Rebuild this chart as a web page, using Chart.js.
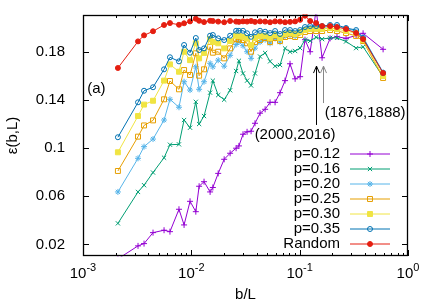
<!DOCTYPE html>
<html lang="en">
<head>
<meta charset="UTF-8">
<title>epsilon(b,L) vs b/L</title>
<script src="https://cdn.jsdelivr.net/npm/chart.js"></script>
<style>
  html, body { margin: 0; padding: 0; background: #fff; }
  #wrap { width: 436px; height: 305px; }
</style>
</head>
<body>
<div id="wrap"><canvas id="epsChart" width="436" height="305"></canvas></div>
<script>
// b/L values shared by all curves
const bL = [0.0021, 0.00322, 0.00366, 0.00443, 0.0056, 0.00635, 0.00769, 0.00857, 0.00973, 0.0110,
            0.0118, 0.0131, 0.0149, 0.0158, 0.0177, 0.0201, 0.0228, 0.0259, 0.0275, 0.0300,
            0.0327, 0.0356, 0.0387, 0.0431, 0.0480, 0.0533, 0.0593, 0.0659, 0.0733, 0.0815,
            0.0908, 0.101, 0.112, 0.125, 0.142, 0.161, 0.191, 0.221, 0.268, 0.332,
            0.385, 0.589];

// eps(b,L) for every curve
const p012 = [0.0080, 0.0188, 0.0207, 0.0298, 0.0318, 0.0306, 0.0492, 0.0362, 0.0558, 0.0472,
              0.0683, 0.0721, 0.0636, 0.0673, 0.0790, 0.0907, 0.0957, 0.0999, 0.1018, 0.1115,
              0.1135, 0.1140, 0.1206, 0.1290, 0.1322, 0.1380, 0.1380, 0.1460, 0.1560, 0.1700,
              0.1575, 0.1593, 0.1900, 0.1800, 0.2150, 0.1750, 0.1911, 0.1925, 0.1911, 0.1935,
              0.1953, 0.1820];
const p016 = [0.0375, 0.0636, 0.0692, 0.0797, 0.0920, 0.1028, 0.1031, 0.1233, 0.1169, 0.1384,
              0.1200, 0.1266, 0.1460, 0.1560, 0.1440, 0.1402, 0.1480, 0.1640, 0.1725, 0.1620,
              0.1560, 0.1520, 0.1620, 0.1760, 0.1790, 0.1720, 0.1680, 0.1690, 0.1828, 0.1800,
              0.1806, 0.1830, 0.1900, 0.1890, 0.1920, 0.1905, 0.1915, 0.1915, 0.1885, 0.1830,
              0.1841, 0.1592];
const p020 = [0.0636, 0.0915, 0.1012, 0.1075, 0.1233, 0.1405, 0.1339, 0.1551, 0.1482, 0.1675,
              0.1488, 0.1551, 0.1704, 0.1675, 0.1730, 0.1680, 0.1770, 0.1860, 0.1880, 0.1850,
              0.1800, 0.1745, 0.1830, 0.1880, 0.1900, 0.1870, 0.1910, 0.1880, 0.1930, 0.1940,
              0.1930, 0.1960, 0.1990, 0.2000, 0.2000, 0.2000, 0.2010, 0.2010, 0.1995, 0.1970,
              0.1920, 0.1630];
const p025 = [0.0810, 0.1095, 0.1188, 0.1230, 0.1405, 0.1557, 0.1488, 0.1648, 0.1607, 0.1787,
              0.1601, 0.1654, 0.1841, 0.1792, 0.1800, 0.1745, 0.1828, 0.1905, 0.1900, 0.1897,
              0.1870, 0.1800, 0.1880, 0.1897, 0.1914, 0.1880, 0.1914, 0.1889, 0.1922, 0.1931,
              0.1922, 0.1939, 0.1964, 0.1972, 0.1972, 0.1972, 0.1980, 0.1972, 0.1955, 0.1931,
              0.1889, 0.1582];
const p030 = [0.0965, 0.1266, 0.1361, 0.1393, 0.1560, 0.1695, 0.1634, 0.1800, 0.1730, 0.1870,
              0.1745, 0.1790, 0.1905, 0.1880, 0.1870, 0.1828, 0.1889, 0.1933, 0.1930, 0.1924,
              0.1910, 0.1856, 0.1914, 0.1931, 0.1931, 0.1914, 0.1939, 0.1914, 0.1947, 0.1955,
              0.1947, 0.1964, 0.1980, 0.1989, 0.1989, 0.1989, 0.1997, 0.1989, 0.1972, 0.1955,
              0.1897, 0.1598];
const p035 = [0.1090, 0.1380, 0.1476, 0.1505, 0.1654, 0.1754, 0.1720, 0.1856, 0.1792, 0.1914,
              0.1814, 0.1828, 0.1933, 0.1939, 0.1911, 0.1897, 0.1933, 0.1974, 0.1974, 0.1974,
              0.1953, 0.1924, 0.1961, 0.1974, 0.1966, 0.1955, 0.1972, 0.1947, 0.1980, 0.1980,
              0.1972, 0.1980, 0.2005, 0.2013, 0.2013, 0.2013, 0.2022, 0.2022, 0.1997, 0.1980,
              0.1914, 0.1623];
const randomCase = [0.1665, 0.1886, 0.1936, 0.1970, 0.2022, 0.2038, 0.2024, 0.2036, 0.2052, 0.2074,
                    0.2057, 0.2046, 0.2057, 0.2055, 0.2050, 0.2045, 0.2055, 0.2050, 0.2048, 0.2052,
                    0.2050, 0.2055, 0.2048, 0.2052, 0.2050, 0.2045, 0.2052, 0.2050, 0.2045, 0.2048,
                    0.2052, 0.2065, 0.2099, 0.2055, 0.2038, 0.2013, 0.2013, 0.2005, 0.1988, 0.1955,
                    0.1905, 0.1623];

const seriesNames = ['p=0.12', 'p=0.16', 'p=0.20', 'p=0.25', 'p=0.30', 'p=0.35', 'Random'];
const seriesValues = [p012, p016, p020, p025, p030, p035, randomCase];
const seriesColors = ['#9400d3', '#009e73', '#56b4e9', '#e69f00', '#f0e442', '#0072b2', '#e51e10'];
const seriesMarkers = ['cross', 'crossRot', 'star', 'rect', 'rect', 'circle', 'circle'];
const seriesFilled = [false, false, false, false, true, false, true];
const seriesSizes = [3, 3, 3, 3.5, 3.5, 2.5, 2.5];

const yTicks = [0.02, 0.06, 0.1, 0.14, 0.18];
const yTickLabels = ['0.02', '0.06', '0.1', '0.14', '0.18'];
const xTicks = [0.001, 0.01, 0.1, 1];
const xTickBase = '10';
const xTickExp = ['-3', '-2', '-1', '0'];

// annotations (in data units)
const notes = [
  { text: '(a)', x: 0.00133, y: 0.149 },
  { text: '(2000,2016)', x: 0.0907, y: 0.1109 },
  { text: '(1876,1888)', x: 0.402, y: 0.1294 }
];
const arrowX = [0.142, 0.164];
const arrowTail = [0.1192, 0.1374];
const arrowTip = [0.1681, 0.1681];
const arrowColors = ['#000', '#888'];

const FONT = '"Liberation Sans", Arial, Helvetica, sans-serif';
Chart.defaults.font.family = FONT;
Chart.defaults.font.size = 15;
Chart.defaults.color = '#000';

const datasets = seriesNames.map((name, i) => ({
  label: name,
  data: bL.map((b, j) => ({ x: b, y: seriesValues[i][j] })),
  borderColor: seriesColors[i],
  backgroundColor: seriesColors[i],
  borderWidth: 1,
  pointStyle: seriesMarkers[i],
  pointRadius: seriesSizes[i],
  pointBorderWidth: 1,
  pointBorderColor: seriesColors[i],
  pointBackgroundColor: seriesFilled[i] ? seriesColors[i] : 'rgba(0,0,0,0)',
  tension: 0,
  clip: 0.5,
  order: seriesNames.length - i
}));

function seg(ctx, x1, y1, x2, y2) {
  ctx.beginPath();
  ctx.moveTo(x1, y1);
  ctx.lineTo(x2, y2);
  ctx.stroke();
}

// box + inward tick marks + 10^n labels, gnuplot style
const framePlugin = {
  id: 'frame',
  afterDatasetsDraw(chart) {
    const { ctx, chartArea: a, scales: { x, y } } = chart;
    ctx.save();
    ctx.strokeStyle = '#000';
    ctx.lineWidth = 1;
    yTicks.forEach(v => {
      const py = Math.round(y.getPixelForValue(v)) + 0.5;
      seg(ctx, a.left, py, a.left + 6, py);
      seg(ctx, a.right - 6, py, a.right, py);
    });
    for (let e = -3; e <= 0; e++) {
      for (let m = 1; m <= (e === 0 ? 1 : 9); m++) {
        const px = Math.round(x.getPixelForValue(m * Math.pow(10, e))) + 0.5;
        const len = m === 1 ? 6 : 3;
        seg(ctx, px, a.bottom, px, a.bottom - len);
        seg(ctx, px, a.top, px, a.top + len);
      }
    }
    ctx.lineWidth = 1.3;
    ctx.strokeRect(a.left + 0.5, a.top + 0.5, a.right - a.left - 1, a.bottom - a.top - 1);

    // x tick labels with a raised exponent
    ctx.fillStyle = '#000';
    ctx.textAlign = 'left';
    ctx.textBaseline = 'alphabetic';
    xTicks.forEach((v, i) => {
      const px = x.getPixelForValue(v);
      ctx.font = '15px ' + FONT;
      const wb = ctx.measureText(xTickBase).width;
      ctx.font = '11px ' + FONT;
      const we = ctx.measureText(xTickExp[i]).width;
      const x0 = px - (wb + we) / 2;
      ctx.font = '15px ' + FONT;
      ctx.fillText(xTickBase, x0, a.bottom + 22);
      ctx.font = '11px ' + FONT;
      ctx.fillText(xTickExp[i], x0 + wb, a.bottom + 14.5);
    });
    ctx.restore();
  }
};

// key inside the plot, bottom right
const keyPlugin = {
  id: 'key',
  afterDraw(chart) {
    const { ctx, chartArea: a } = chart;
    const rowH = 15;
    const textRight = a.right - 68;
    const lineL = a.right - 58, lineR = a.right - 18;
    let yy = a.bottom - 12 - rowH * (chart.data.datasets.length - 1);
    ctx.save();
    chart.data.datasets.forEach(ds => {
      ctx.font = '15px ' + FONT;
      ctx.fillStyle = '#000';
      ctx.textAlign = 'right';
      ctx.textBaseline = 'middle';
      ctx.fillText(ds.label, textRight, yy);
      ctx.strokeStyle = ds.borderColor;
      ctx.lineWidth = 1;
      seg(ctx, lineL, yy, lineR, yy);
      ctx.fillStyle = ds.pointBackgroundColor;
      Chart.helpers.drawPoint(ctx, { pointStyle: ds.pointStyle, radius: ds.pointRadius, rotation: 0, borderWidth: 1 },
        (lineL + lineR) / 2, yy);
      yy += rowH;
    });
    ctx.restore();
  }
};

// labels and arrows
const notePlugin = {
  id: 'notes',
  afterDraw(chart) {
    const { ctx, scales: { x, y } } = chart;
    ctx.save();
    ctx.font = '15px ' + FONT;
    ctx.fillStyle = '#000';
    ctx.textAlign = 'center';
    ctx.textBaseline = 'middle';
    notes.forEach(n => ctx.fillText(n.text, x.getPixelForValue(n.x), y.getPixelForValue(n.y)));
    arrowX.forEach((ax, i) => {
      const px = Math.round(x.getPixelForValue(ax)) + 0.5;
      const y0 = y.getPixelForValue(arrowTail[i]);
      const y1 = y.getPixelForValue(arrowTip[i]);
      ctx.strokeStyle = arrowColors[i];
      ctx.lineWidth = 1;
      seg(ctx, px, y0, px, y1);
      ctx.beginPath();
      ctx.moveTo(px - 3, y1 + 7);
      ctx.lineTo(px, y1);
      ctx.lineTo(px + 3, y1 + 7);
      ctx.stroke();
    });
    ctx.restore();
  }
};

new Chart(document.getElementById('epsChart'), {
  type: 'line',
  data: { datasets },
  options: {
    responsive: false,
    animation: false,
    devicePixelRatio: 1,
    layout: { padding: { left: 0, right: 28, top: 15, bottom: 0 } },
    plugins: { legend: { display: false }, tooltip: { enabled: false } },
    scales: {
      x: {
        type: 'logarithmic',
        min: 0.001,
        max: 1,
        grid: { display: false },
        border: { display: false },
        afterBuildTicks: s => { s.ticks = xTicks.map(v => ({ value: v })); },
        afterFit: s => { s.height = 49; s.paddingLeft = 0; s.paddingRight = 0; },
        ticks: { display: false },
        title: { display: true, text: 'b/L', padding: { top: 0, bottom: 1 } }
      },
      y: {
        type: 'linear',
        min: 0.0104,
        max: 0.2105,
        grid: { display: false },
        border: { display: false },
        afterBuildTicks: s => { s.ticks = yTicks.map(v => ({ value: v })); },
        afterFit: s => { s.width = 83; s.paddingTop = 0; s.paddingBottom = 0; },
        ticks: { padding: 10, callback: (v, i) => yTickLabels[i] },
        title: { display: true, text: 'ε(b,L)', padding: { top: 4, bottom: 0 } }
      }
    }
  },
  plugins: [framePlugin, keyPlugin, notePlugin]
});
</script>
</body>
</html>
